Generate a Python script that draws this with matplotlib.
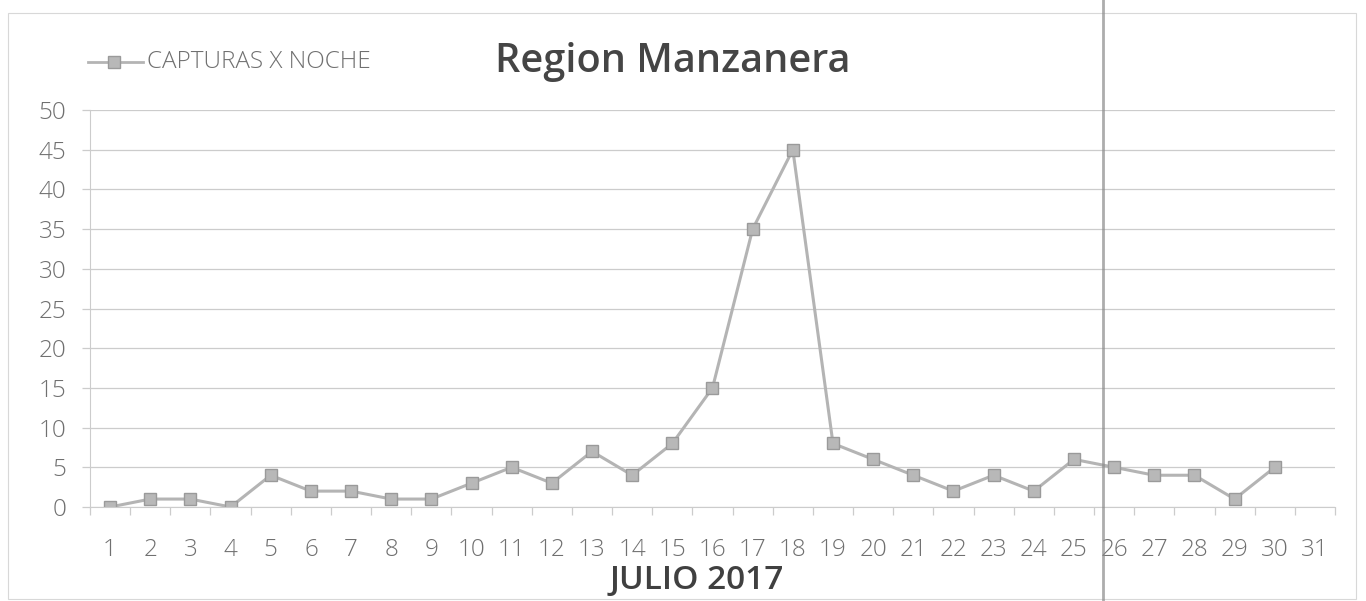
import matplotlib
matplotlib.use("Agg")
import matplotlib.pyplot as plt
from matplotlib.lines import Line2D
import numpy as np

days = list(range(1, 32))
day_labels = [str(d) for d in days]
captures_days = list(range(1, 31))
captures = [0, 1, 1, 0, 4, 2, 2, 1, 1, 3, 5, 3, 7, 4, 8, 15, 35, 45, 8, 6,
            4, 2, 4, 2, 6, 5, 4, 4, 1, 5]
y_ticks = [0, 5, 10, 15, 20, 25, 30, 35, 40, 45, 50]

W, H = 1366, 601
fig = plt.figure(figsize=(W / 100, H / 100), dpi=100)
fig.patch.set_facecolor("white")

ax = fig.add_axes([90 / W, 1 - 507 / H, (1335 - 90) / W, (507 - 110) / H])
ax.set_xlim(0.5, 31.5)
ax.set_ylim(0, 50)

grid_c = "#cccccc"
text_c = "#707070"
tick_font = dict(fontsize=17.5, color=text_c, family="Open Sans", fontweight="light")
ax.set_yticks(y_ticks)
ax.set_yticklabels([str(v) for v in y_ticks], **tick_font)
ax.yaxis.grid(True, color=grid_c, linewidth=0.9)
ax.set_axisbelow(True)

ax.set_xticks(days)
ax.set_xticklabels(day_labels, **tick_font)
ax.set_xticks(np.arange(0.5, 32, 1), minor=True)
ax.tick_params(axis="x", which="major", length=0, pad=22)
ax.tick_params(axis="x", which="minor", length=6, color=grid_c, width=0.9)
ax.tick_params(axis="y", length=6, color=grid_c, width=0.9, pad=11)

for s in ["top", "right"]:
    ax.spines[s].set_visible(False)
ax.spines["left"].set_color(grid_c)
ax.spines["bottom"].set_color(grid_c)

ax.plot(captures_days, captures, color="#b4b4b4", linewidth=2.2,
        marker="s", markersize=8, markerfacecolor="#b8b8b8",
        markeredgecolor="#9a9a9a", markeredgewidth=1.0)

fig.text(697 / W, 1 - 581 / H, "JULIO 2017", ha="center", va="center",
         fontsize=24, fontweight="semibold", color="#404040", family="Open Sans")

fig.text(673 / W, 1 - 62 / H, "Region Manzanera", ha="center", va="center",
         fontsize=28.5, fontweight="semibold", color="#454545", family="Open Sans")

# legend
leg_line = Line2D([88 / W, 143 / W], [1 - 62 / H, 1 - 62 / H],
                  transform=fig.transFigure, color="#b4b4b4", linewidth=2.0)
fig.add_artist(leg_line)
leg_mark = Line2D([114 / W], [1 - 62 / H], transform=fig.transFigure,
                  marker="s", markersize=8, markerfacecolor="#b8b8b8",
                  markeredgecolor="#9a9a9a", linestyle="none")
fig.add_artist(leg_mark)
fig.text(147 / W, 1 - 62 / H, "CAPTURAS X NOCHE", ha="left", va="center",
         fontsize=17.5, color=text_c, family="Open Sans", fontweight="light")

# outer chart border
border = plt.Rectangle((8 / W, 2 / H), (1356 - 8) / W, (588 - 2) / H,
                       transform=fig.transFigure, fill=False,
                       edgecolor="#d8d8d8", linewidth=0.8)
fig.add_artist(border)

# scan artifact line
fig.add_artist(Line2D([1103 / W, 1103 / W], [0, 1], transform=fig.transFigure,
                      color="#8a8a8a", linewidth=2.0, alpha=0.7))

fig.savefig("out.png", dpi=100)
